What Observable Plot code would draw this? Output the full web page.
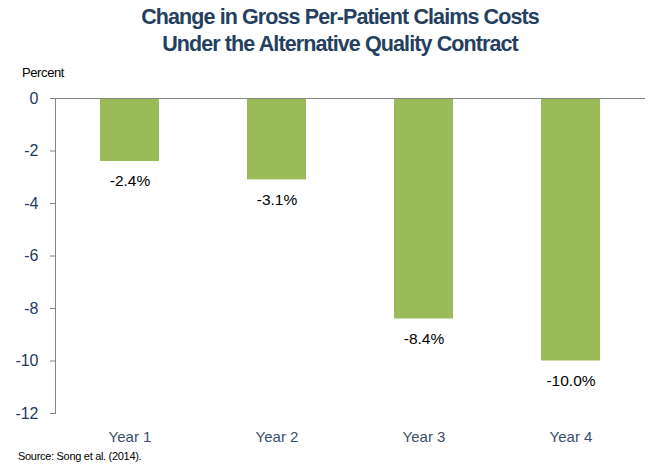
<!DOCTYPE html>
<html>
<head>
<meta charset="utf-8">
<script src="https://cdn.jsdelivr.net/npm/d3@7"></script>
<script src="https://cdn.jsdelivr.net/npm/@observablehq/plot@0.6"></script>
<style>
  body { margin: 0; background: #fff; }
  #wrap { position: relative; width: 663px; height: 468px; font-family: "Liberation Sans", Arial, sans-serif; }
  #title { position: absolute; left: 0; top: 4px; width: 680px; text-align: center; font-family: "Liberation Sans Narrow", "Arial Narrow", "Liberation Sans", sans-serif; font-weight: bold; font-size: 21.5px; line-height: 27px; color: #243f60; letter-spacing: -0.9px; }
  #ylabel { position: absolute; left: 22px; top: 65px; font-size: 13px; color: #000; letter-spacing: -0.4px; }
  #source { position: absolute; left: 18px; top: 450px; font-size: 11px; color: #000; letter-spacing: -0.3px; }
  #chart { position: absolute; left: 0; top: 0; }
</style>
</head>
<body>
<div id="wrap">
  <div id="chart"></div>
  <div id="title">Change in Gross Per-Patient Claims Costs<br>Under the Alternative Quality Contract</div>
  <div id="ylabel">Percent</div>
  <div id="source">Source: Song et al. (2014).</div>
</div>
<script>
const categories = ["Year 1", "Year 2", "Year 3", "Year 4"];
const values = [-2.4, -3.1, -8.4, -10.0];
const valueLabels = ["-2.4%", "-3.1%", "-8.4%", "-10.0%"];
const yTicks = [0, -2, -4, -6, -8, -10, -12];

const data = categories.map((c, i) => ({cat: c, v: values[i], label: valueLabels[i]}));

const plot = Plot.plot({
  width: 663,
  height: 468,
  marginTop: 98,
  marginBottom: 55,
  marginLeft: 55,
  marginRight: 18,
  style: {fontFamily: "Liberation Sans, Arial, sans-serif", background: "transparent"},
  x: {domain: categories, paddingInner: 0.6, paddingOuter: 0.3, label: null},
  y: {domain: [-12, 0], label: null},
  marks: [
    Plot.barY(data, {x: "cat", y: "v", fill: "#9BBB59"}),
    Plot.ruleY([0], {stroke: "#868686", strokeWidth: 1}),
    Plot.frame({anchor: "left", stroke: "#868686", strokeWidth: 1}),
    Plot.axisY({ticks: yTicks, tickSize: 5, tickFormat: d => String(d), fontSize: 16, fill: "#1f3a5f", stroke: "#868686", tickPadding: 12, label: null}),
    Plot.axisX({tickSize: 0, fontSize: 15, fill: "#3b4e6b", tickPadding: 18, label: null}),
    Plot.text(data, {x: "cat", y: "v", text: "label", dy: 20, fontSize: 15.5, fill: "#000"})
  ]
});
document.getElementById("chart").appendChild(plot);
</script>
</body>
</html>
